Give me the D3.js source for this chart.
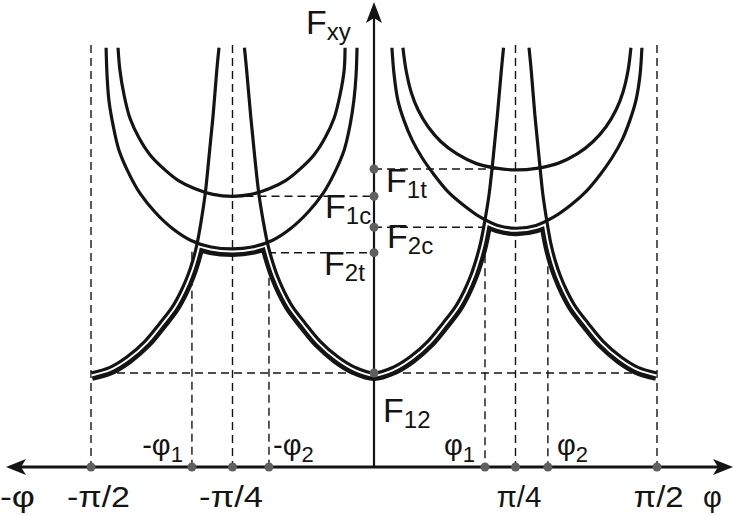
<!DOCTYPE html>
<html>
<head>
<meta charset="utf-8">
<script src="https://cdn.jsdelivr.net/npm/d3@7"></script>
<style>
  html, body { margin: 0; padding: 0; background: #fff; }
  svg { display: block; }
</style>
</head>
<body>
<svg id="chart" width="733" height="515"></svg>
<script>
// Angle φ in degrees, shear strength F_xy in units of F12.

// F12-governed branches (rise towards ±π/4)
const steepLeft = [[-90,1.00],[-84.0,1.06],[-78.6,1.17],[-72.8,1.34],[-68.1,1.53],[-64.2,1.70],[-61.4,1.87],[-59.2,2.04],[-57.6,2.20],[-56.3,2.37],[-55.0,2.61],[-53.7,2.90],[-52.5,3.29],[-51.2,3.73],[-50.0,4.22],[-49.3,4.46]];
const steepMid = [[-41.2,4.46],[-40.5,4.22],[-39.2,3.73],[-37.9,3.29],[-36.6,2.90],[-35.2,2.61],[-33.8,2.37],[-32.4,2.20],[-30.8,2.04],[-28.6,1.87],[-25.8,1.70],[-21.9,1.53],[-17.2,1.34],[-11.4,1.17],[-6.0,1.06],[0,1.00],[6.0,1.06],[11.4,1.17],[17.2,1.34],[21.9,1.53],[25.8,1.70],[28.6,1.87],[30.8,2.04],[32.4,2.20],[33.8,2.37],[35.2,2.61],[36.6,2.90],[37.9,3.29],[39.2,3.73],[40.5,4.22],[41.2,4.46]];
const steepRight = [[49.3,4.46],[50.0,4.22],[51.2,3.73],[52.5,3.29],[53.7,2.90],[55.0,2.61],[56.3,2.37],[57.6,2.20],[59.2,2.04],[61.4,1.87],[64.2,1.70],[68.1,1.53],[72.8,1.34],[78.6,1.17],[84.0,1.06],[90,1.00]];

// fibre-direction branch, compression side (minimum F1c at -π/4)
const innerULeft = [[-81.4,4.46],[-80.8,4.22],[-79.5,3.96],[-77.6,3.71],[-74.7,3.50],[-71.2,3.32],[-67.1,3.18],[-62.3,3.05],[-56.9,2.96],[-51.2,2.90],[-45,2.88],[-39.1,2.90],[-33.4,2.96],[-28.0,3.05],[-23.2,3.18],[-19.1,3.32],[-15.6,3.50],[-12.7,3.71],[-10.8,3.96],[-9.5,4.22],[-9.2,4.46]];
// transverse branch, tension side (minimum near F2t at -π/4)
const outerULeft = [[-85.2,4.46],[-84.9,4.17],[-84.3,3.90],[-83.0,3.64],[-81.1,3.37],[-78.2,3.14],[-74.4,2.91],[-69.6,2.71],[-64.2,2.54],[-58.2,2.41],[-51.8,2.34],[-45,2.32],[-38.8,2.34],[-32.4,2.41],[-26.4,2.54],[-21.0,2.71],[-16.2,2.91],[-12.4,3.14],[-9.5,3.37],[-7.6,3.64],[-6.4,3.90],[-5.7,4.17],[-5.4,4.46]];
// fibre-direction branch, tension side (minimum F1t at π/4)
const innerURight = [[9.2,4.46],[10.2,4.22],[11.8,3.99],[14.0,3.80],[17.2,3.62],[21.3,3.46],[26.4,3.33],[32.4,3.23],[38.8,3.18],[45,3.16],[52.2,3.18],[58.5,3.23],[64.6,3.33],[69.6,3.46],[73.8,3.62],[77.0,3.80],[79.2,3.99],[80.8,4.22],[81.7,4.46]];
// transverse branch, compression side (minimum F2c at π/4)
const outerURight = [[5.7,4.46],[6.4,4.17],[7.6,3.90],[9.5,3.69],[12.1,3.48],[15.3,3.29],[19.1,3.11],[23.5,2.93],[28.3,2.79],[33.7,2.66],[39.4,2.57],[45,2.54],[51.5,2.57],[57.2,2.66],[62.7,2.79],[67.4,2.93],[71.9,3.11],[75.7,3.29],[78.9,3.48],[81.4,3.69],[83.3,3.90],[84.6,4.17],[85.2,4.46]];

// horizontal axis marks
const tickAngles = [-90, -45, 45, 90];
const tickLabels = ["-π/2", "-π/4", "π/4", "π/2"];
const markAngles = [-57.9, -33.4, 35.3, 55.3];
const markNames = ["-φ", "-φ", "φ", "φ"];
const markSubs = ["1", "2", "1", "2"];
const markTops = [2.29, 2.29, 2.53, 2.55];
const guideTop = 4.49;

// strength levels on the vertical axis
const levelSubs = ["1t", "1c", "2c", "2t", "12"];
const levelValues = [3.17, 2.88, 2.55, 2.28, 1.00];
const levelFrom = [0, -45, 0, -33.7, -90];
const levelTo = [38.5, 0, 34.7, 0, 90];

const FONT = "'Liberation Sans', Arial, Helvetica, sans-serif";
const INK = "#141414";
const DOT = "#5f5f5f";

const x = d3.scaleLinear().domain([-90, 90]).range([91, 657]);
const y = d3.scaleLinear().domain([0, 1]).range([467, 373]);
const x0 = x(0), y0 = y(0);

const svg = d3.select("#chart");
const defs = svg.append("defs");
const line = d3.line().x(d => x(d[0])).y(d => y(d[1])).curve(d3.curveCatmullRom.alpha(0.5));

// dashed guides
const dash = svg.append("g").attr("stroke", INK).attr("stroke-width", 1.4)
  .attr("stroke-dasharray", "8,5").attr("fill", "none");
tickAngles.forEach(a => dash.append("line")
  .attr("x1", x(a)).attr("x2", x(a)).attr("y1", y(guideTop)).attr("y2", y0));
markAngles.forEach((a, i) => dash.append("line")
  .attr("x1", x(a)).attr("x2", x(a)).attr("y1", y(markTops[i])).attr("y2", y0));
levelValues.forEach((v, i) => dash.append("line")
  .attr("x1", x(levelFrom[i])).attr("x2", x(levelTo[i])).attr("y1", y(v)).attr("y2", y(v)));

// failure envelope: inner double line, offset below the governing curves
const skyY = -30, floorY = y0 + 8;
const asLine = p => p.replace(/^M/, "L");
const steepRegion = line(steepLeft)
  + `L${x(steepLeft[steepLeft.length - 1][0])},${skyY}L${x(steepMid[0][0])},${skyY}`
  + asLine(line(steepMid))
  + `L${x(steepMid[steepMid.length - 1][0])},${skyY}L${x(steepRight[0][0])},${skyY}`
  + asLine(line(steepRight))
  + `L${x(90)},${floorY}L${x(-90)},${floorY}Z`;
const uRegion = `M-20,${skyY}H760V540H-20Z` + line(outerULeft) + "Z" + line(outerURight) + "Z";
defs.append("clipPath").attr("id", "belowSteep").append("path").attr("d", steepRegion);
defs.append("clipPath").attr("id", "belowU").append("path").attr("d", uRegion).attr("clip-rule", "evenodd");

const band = svg.append("g").attr("clip-path", "url(#belowSteep)")
  .append("g").attr("clip-path", "url(#belowU)");
const envelope = [steepLeft, steepMid, steepRight, outerULeft, outerURight];
envelope.forEach(s => band.append("path").attr("d", line(s)).attr("fill", "none")
  .attr("stroke", INK).attr("stroke-width", 16).attr("stroke-linejoin", "round"));
envelope.forEach(s => band.append("path").attr("d", line(s)).attr("fill", "none")
  .attr("stroke", "#fff").attr("stroke-width", 7).attr("stroke-linejoin", "round"));

// criterion curves
const curves = svg.append("g").attr("fill", "none").attr("stroke", INK).attr("stroke-width", 3.2);
[steepLeft, steepMid, steepRight, innerULeft, outerULeft, innerURight, outerURight]
  .forEach(s => curves.append("path").attr("d", line(s)));

// axes
const axisG = svg.append("g").attr("transform", `translate(0,${y0})`)
  .call(d3.axisBottom(x).tickValues(tickAngles).tickFormat((d, i) => tickLabels[i]).tickSize(0));
axisG.select(".domain").remove();
const tickShift = [7, -2, 3, 1];
const tickWidth = [63, 64, 45, 50];
axisG.selectAll(".tick text")
  .attr("y", 40).attr("dy", null)
  .attr("dx", (d, i) => tickShift[i])
  .attr("font-family", FONT).attr("font-size", 29).attr("fill", INK)
  .attr("textLength", (d, i) => tickWidth[i]).attr("lengthAdjust", "spacingAndGlyphs");

svg.append("line").attr("x1", 16).attr("x2", 722).attr("y1", y0).attr("y2", y0)
  .attr("stroke", INK).attr("stroke-width", 3);
svg.append("line").attr("x1", x0).attr("x2", x0).attr("y1", y0).attr("y2", 14)
  .attr("stroke", INK).attr("stroke-width", 2.2);
svg.append("path").attr("fill", INK)
  .attr("d", `M733,${y0}L713,${y0 - 8}L718,${y0}L713,${y0 + 8}Z`);
svg.append("path").attr("fill", INK)
  .attr("d", `M6,${y0}L26,${y0 - 8}L21,${y0}L26,${y0 + 8}Z`);
svg.append("path").attr("fill", INK)
  .attr("d", `M${x0},2L${x0 - 8},23L${x0},18L${x0 + 8},23Z`);

svg.append("text").attr("x", 0).attr("y", 507).attr("font-family", FONT).attr("font-size", 29)
  .attr("fill", INK).attr("textLength", 35).attr("lengthAdjust", "spacingAndGlyphs").text("-φ");
svg.append("text").attr("x", 703).attr("y", 507).attr("font-family", FONT).attr("font-size", 29)
  .attr("fill", INK).text("φ");

// points on the axes
svg.append("g").selectAll("circle").data(tickAngles.concat(markAngles)).join("circle")
  .attr("cx", d => x(d)).attr("cy", y0).attr("r", 4.5).attr("fill", DOT);
svg.append("g").selectAll("circle").data(levelValues).join("circle")
  .attr("cx", x0).attr("cy", d => y(d)).attr("r", 4.5).attr("fill", DOT);

// angle labels above the axis
const markAnchor = ["end", "start", "end", "start"];
const markGap = [-9, 4, -10, 9];
markAngles.forEach((a, i) => {
  const t = svg.append("text").attr("x", x(a) + markGap[i]).attr("y", 455)
    .attr("text-anchor", markAnchor[i]).attr("font-family", FONT).attr("fill", INK);
  t.append("tspan").attr("font-size", 29).text(markNames[i]);
  t.append("tspan").attr("font-size", 22).attr("dy", 7).text(markSubs[i]);
});

// strength labels beside the vertical axis
function fLabel(sub, px, py) {
  const t = svg.append("text").attr("x", px).attr("y", py).attr("font-family", FONT).attr("fill", INK);
  t.append("tspan").attr("font-size", 34).text("F");
  t.append("tspan").attr("font-size", 24).attr("dy", 6).text(sub);
}
fLabel("xy", 306, 34);
const labelDx = [12, -49, 13, -50, 9];
const labelDy = [23, 22, 21, 22, 49];
levelSubs.forEach((s, i) => fLabel(s, x0 + labelDx[i], y(levelValues[i]) + labelDy[i]));
</script>
</body>
</html>
